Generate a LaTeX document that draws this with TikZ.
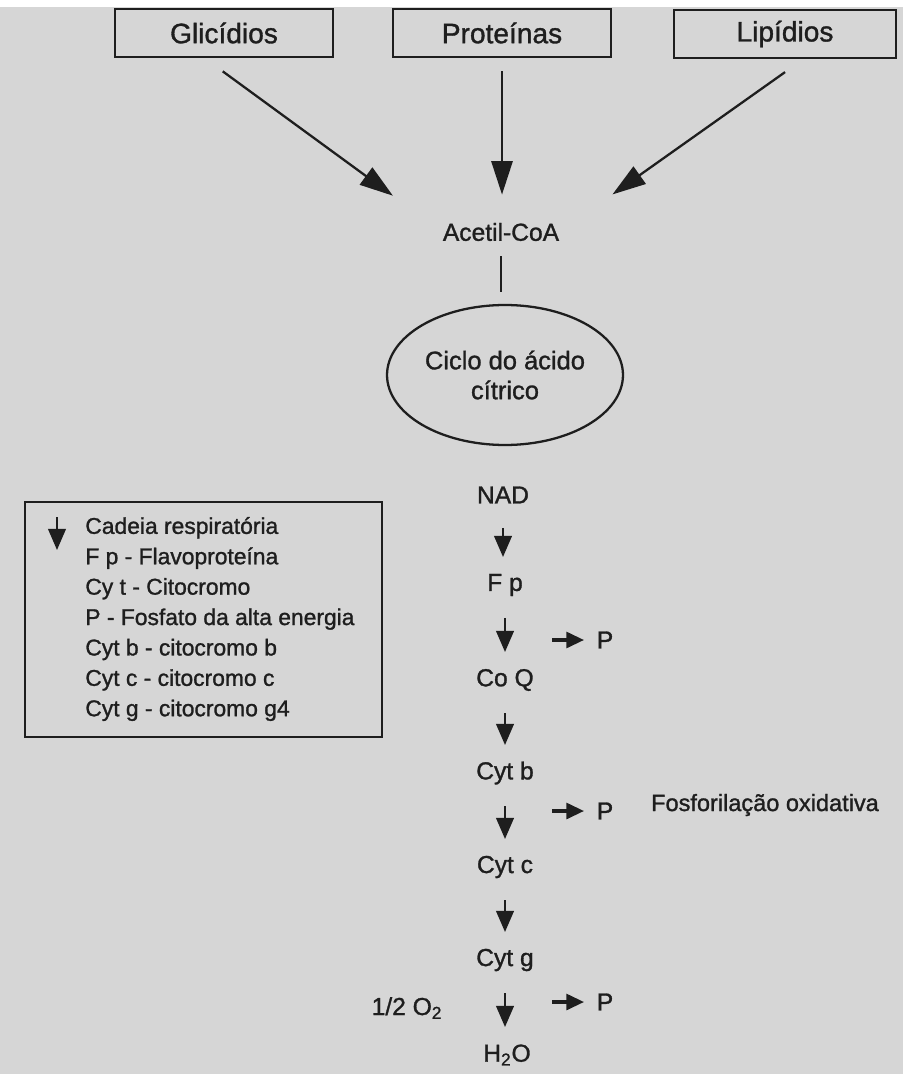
\documentclass[tikz,border=0pt]{standalone}
\usepackage{fontspec}
\setmainfont{Liberation Sans}[UprightFeatures={FakeBold=1.2}]
\usetikzlibrary{arrows.meta, shapes.geometric}
\definecolor{paper}{HTML}{D6D6D6}
\definecolor{ink}{HTML}{1E1E1E}

\begin{document}
\begin{tikzpicture}[
    x=0.02cm, y=-0.02cm,
    every node/.style={font=\fontsize{14}{17}\selectfont, text=ink, inner sep=0pt},
    srcbox/.style={
        draw=ink, line width=1.6pt, minimum width=4.36cm, minimum height=0.96cm,
        font=\fontsize{16}{19}\selectfont
    },
    cyclenode/.style={
        ellipse, draw=ink, line width=1.3pt, minimum width=4.72cm, minimum height=2.8cm,
        align=center, font=\fontsize{14.5}{17}\selectfont
    },
    legendbox/.style={draw=ink, line width=1.5pt, minimum width=7.14cm, minimum height=4.7cm},
    legendtext/.style={align=left, font=\fontsize{13}{17.3}\selectfont},
    bigarrow/.style={-{Triangle[length=19pt, width=12pt]}, line width=1.3pt, draw=ink},
    chainarrow/.style={-{Triangle[length=12pt, width=10pt]}, line width=1.3pt, draw=ink},
    sidearrow/.style={-{Triangle[length=10pt, width=9pt]}, line width=1.8pt, draw=ink},
    link/.style={line width=1.3pt, draw=ink},
]

% ===== Background (scanned page) =====
\fill[paper] (0,0) rectangle (903,1074);
\fill[white] (0,0) rectangle (903,7);

% ===== Row 1: Sources =====
\node[srcbox] (glic) at (224,33) {Glicídios};
\node[srcbox] (prot) at (502,33) {Proteínas};
\node[srcbox, minimum width=4.44cm] (lip) at (785,34) {Lipídios};

% ===== Acetil-CoA & cycle =====
\node (acetil) at (501,232) {Acetil-CoA};
\node[cyclenode] (ciclo) at (505,375) {Ciclo do ácido\\cítrico};

% ===== Respiratory chain =====
\node (nad) at (503,495) {NAD};
\node (fp) at (505,585) {F p};
\node (coq) at (505,680) {Co Q};
\node (cytb) at (505,773) {Cyt b};
\node (cytc) at (505,867) {Cyt c};
\node (cytg) at (505,960) {Cyt g};
\node (agua) at (507,1055) {H\textsubscript{2}O};
\node (oxig) at (407,1008) {1/2 O\textsubscript{2}};

% High-energy phosphate
\node (p1) at (605,640) {P};
\node (p2) at (605,811) {P};
\node (p3) at (605,1002) {P};
\node[font=\fontsize{13.4}{16}\selectfont] (fosfo) at (765,805) {Fosforilação oxidativa};

% ===== Legend =====
\node[legendbox] (legend) at (203.5,619.5) {};
\node[legendtext, anchor=west] (legtxt) at (85,619) {Cadeia respiratória\\
    F p - Flavoproteína\\Cy t - Citocromo\\P - Fosfato da alta energia\\
    Cyt b - citocromo b\\Cyt c - citocromo c\\Cyt g - citocromo g4};
\coordinate (legarrow) at (57,517);

% ===== ARROWS =====
\draw[bigarrow, shorten <=0.44cm, shorten >=1.23cm] ([xshift=-0.38cm]glic.south) -- (acetil.west);
\draw[bigarrow, shorten <=0.26cm, shorten >=0.56cm] (prot.south) -- (prot.south |- acetil.north);
\draw[bigarrow, shorten <=0.44cm, shorten >=1.3cm] ([xshift=0.36cm]lip.south) -- (acetil.east);

\draw[link, shorten <=0.3cm, shorten >=0.24cm] (acetil.south) -- (acetil.south |- ciclo.north);

\foreach \a/\b in {nad/fp, fp/coq, coq/cytb, cytb/cytc, cytc/cytg, cytg/agua}
    \draw[chainarrow, shorten <=0.66cm, shorten >=0.56cm] (\a.center) -- (\a.center |- \b.center);

\foreach \p in {p1, p2, p3}
    \draw[sidearrow] ([xshift=-1.06cm]\p.center) -- ([xshift=-0.42cm]\p.center);

\draw[chainarrow] (legarrow) -- ++(0,33);

\end{tikzpicture}
\end{document}
